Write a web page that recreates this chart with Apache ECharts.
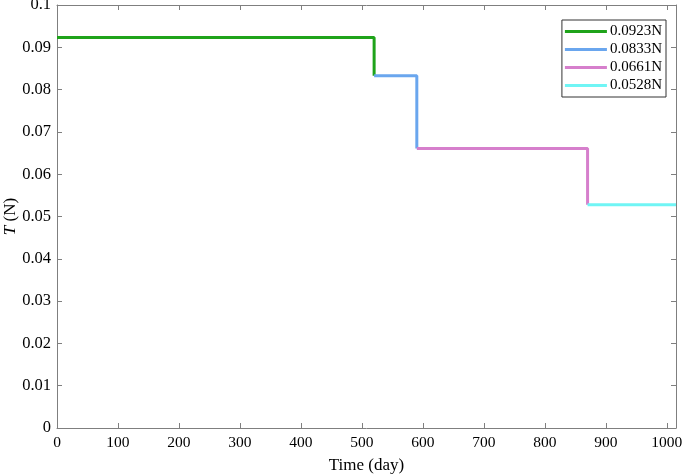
<!DOCTYPE html>
<html>
<head>
<meta charset="utf-8">
<script src="https://cdn.jsdelivr.net/npm/echarts@6/dist/echarts.min.js"></script>
<style>
html, body { margin: 0; padding: 0; background: #fff; }
#main { width: 685px; height: 476px; }
</style>
</head>
<body>
<div id="main"></div>
<script>
// 数据
var seriesNames = ['0.0923N', '0.0833N', '0.0661N', '0.0528N'];
var levels = [0.0923, 0.0833, 0.0661, 0.0528];
var switchDays = [0, 520, 590, 870, 1015];
var colors = ['#1fa31a', '#6aa6ee', '#d67fcc', '#70f5f5'];
var yTicks = [0, 0.01, 0.02, 0.03, 0.04, 0.05, 0.06, 0.07, 0.08, 0.09, 0.1];

var myChart = echarts.init(document.getElementById('main'));
var font = 'Liberation Serif';
var axisColor = '#7f7f7f';

var series = seriesNames.map(function (name, i) {
    var pts = [[switchDays[i], levels[i]], [switchDays[i + 1], levels[i]]];
    if (i + 1 < levels.length) {
        pts.push([switchDays[i + 1], levels[i + 1]]); // 下降竖线
    }
    return {
        name: name,
        type: 'line',
        data: pts,
        showSymbol: false,
        symbol: 'none',
        lineStyle: { width: 3, color: colors[i] },
        itemStyle: { color: colors[i] },
        animation: false
    };
});

var option = {
    backgroundColor: '#fff',
    grid: { left: 57, right: 9, top: 5, bottom: 48, outerBoundsMode: 'none', containLabel: false },
    legend: {
        orient: 'vertical',
        right: 19,
        top: 20,
        icon: 'rect',
        itemWidth: 42,
        itemHeight: 3,
        itemGap: 3,
        padding: [4, 4, 4, 3],
        borderColor: '#333',
        borderWidth: 1,
        backgroundColor: '#fff',
        textStyle: { fontFamily: font, fontSize: 15, color: '#000', padding: [0, 0, 0, -2] },
        data: seriesNames
    },
    xAxis: [{
        type: 'value',
        min: 0,
        max: 1015,
        interval: 100,
        name: 'Time (day)',
        nameLocation: 'middle',
        nameGap: 29,
        nameMoveOverlap: false,
        nameTextStyle: { fontFamily: font, fontSize: 17, color: '#000' },
        axisLine: { lineStyle: { color: axisColor, width: 1 } },
        axisTick: { inside: true, length: 5, lineStyle: { color: axisColor } },
        axisLabel: {
            fontFamily: font, fontSize: 15.5, color: '#000', margin: 7, showMaxLabel: false,
            formatter: function (v) { return String(Math.round(v)); }
        },
        splitLine: { show: false }
    }, {
        type: 'value',
        position: 'top',
        min: 0,
        max: 1015,
        interval: 100,
        axisLine: { show: true, onZero: false, lineStyle: { color: axisColor, width: 1 } },
        axisTick: { show: true, inside: true, length: 5, lineStyle: { color: axisColor } },
        axisLabel: { show: false },
        splitLine: { show: false }
    }],
    yAxis: [{
        type: 'value',
        min: 0,
        max: 0.1,
        interval: 0.01,
        name: '{i|T} (N)',
        nameLocation: 'middle',
        nameRotate: 90,
        nameGap: 38,
        nameMoveOverlap: false,
        nameTextStyle: {
            fontFamily: font, fontSize: 17, color: '#000',
            rich: { i: { fontFamily: font, fontSize: 17, fontStyle: 'italic', color: '#000' } }
        },
        axisLine: { show: true, lineStyle: { color: axisColor, width: 1 } },
        axisTick: { show: true, inside: true, length: 5, lineStyle: { color: axisColor } },
        axisLabel: {
            fontFamily: font, fontSize: 16.5, color: '#000', margin: 6,
            formatter: function (v) {
                var t = yTicks.reduce(function (a, b) { return Math.abs(b - v) < Math.abs(a - v) ? b : a; });
                return String(t);
            }
        },
        splitLine: { show: false }
    }, {
        type: 'value',
        position: 'right',
        min: 0,
        max: 0.1,
        interval: 0.01,
        axisLine: { show: true, onZero: false, lineStyle: { color: axisColor, width: 1 } },
        axisTick: { show: true, inside: true, length: 5, lineStyle: { color: axisColor } },
        axisLabel: { show: false },
        splitLine: { show: false }
    }],
    series: series
};

myChart.setOption(option);
</script>
</body>
</html>
